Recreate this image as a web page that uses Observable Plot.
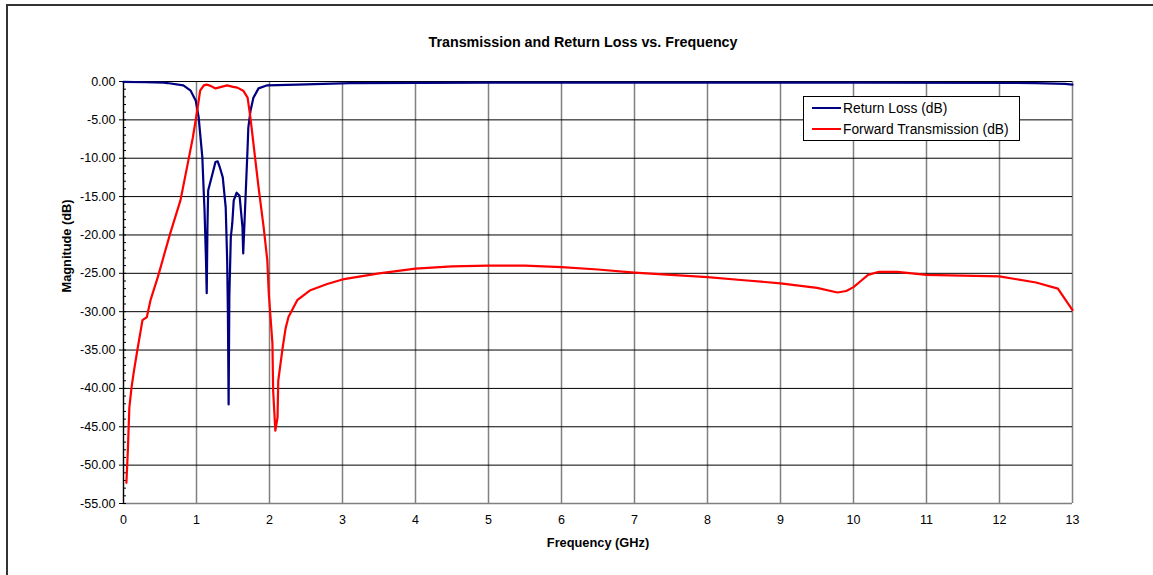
<!DOCTYPE html>
<html>
<head>
<meta charset="utf-8">
<script src="https://cdn.jsdelivr.net/npm/d3@7"></script>
<script src="https://cdn.jsdelivr.net/npm/@observablehq/plot@0.6"></script>
<style>
  body { margin: 0; background: #fff; font-family: "Liberation Sans", Arial, sans-serif; }
  #wrap { position: relative; width: 1153px; height: 575px; overflow: hidden; }
  #border { position: absolute; left: 6px; top: 4px; width: 1200px; height: 700px;
            border-left: 2px solid #333; border-top: 2px solid #333; pointer-events: none; }
  #legend { position: absolute; left: 803px; top: 96px; width: 215px; height: 43px;
            border: 1px solid #000; background: #fff; font-size: 13.8px; color: #000; }
  .row { position: absolute; left: 8px; height: 16px; display: flex; align-items: center; white-space: nowrap; }
  .sw { width: 29px; height: 0; border-top: 2px solid; margin-right: 2px; }
</style>
</head>
<body>
<div id="wrap">
  <div id="chart"></div>
  <div id="border"></div>
  <div id="legend">
    <div class="row" style="top:3px"><span class="sw" style="border-color:#000080"></span><span>Return Loss (dB)</span></div>
    <div class="row" style="top:24px"><span class="sw" style="border-color:#ff0000"></span><span>Forward Transmission (dB)</span></div>
  </div>
</div>
<script>
const title = "Transmission and Return Loss vs. Frequency";
const xLabel = "Frequency (GHz)";
const yLabel = "Magnitude (dB)";
const seriesNames = ["Return Loss (dB)", "Forward Transmission (dB)"];

const xTicks = [0,1,2,3,4,5,6,7,8,9,10,11,12,13];
const yTicks = [0,-5,-10,-15,-20,-25,-30,-35,-40,-45,-50,-55];
const yMinorTicks = d3.range(0, -56, -1);

// Forward transmission (red)
const fwdFreq = [0.04,0.06,0.08,0.11,0.14,0.19,0.26,0.32,0.37,0.47,0.55,0.64,0.78,0.88,0.95,1.01,1.05,1.10,1.14,1.20,1.26,1.34,1.42,1.50,1.56,1.64,1.70,1.74,1.78,1.85,1.92,1.97,1.99,2.04,2.05,2.08,2.11,2.12,2.18,2.22,2.26,2.38,2.56,2.79,3.0,3.5,4.0,4.5,5.0,5.5,6.0,6.5,7.0,7.5,8.0,8.5,9.0,9.5,9.78,9.9,10.0,10.1,10.2,10.35,10.6,11.0,11.5,12.0,12.5,12.8,13.0];
const fwdDb   = [-52.3,-48.0,-42.5,-39.9,-37.9,-35.0,-31.1,-30.7,-28.5,-25.5,-22.8,-19.8,-15.5,-10.7,-7.3,-3.8,-1.2,-0.5,-0.4,-0.6,-0.9,-0.7,-0.5,-0.7,-0.8,-1.2,-2.1,-4.8,-8.1,-13.8,-19.0,-23.3,-27.6,-34.1,-40.3,-45.5,-43.8,-39.0,-34.7,-32.2,-30.7,-28.5,-27.2,-26.4,-25.8,-25.0,-24.4,-24.1,-24.0,-24.0,-24.2,-24.5,-24.9,-25.2,-25.5,-25.9,-26.3,-26.9,-27.5,-27.3,-26.8,-26.0,-25.2,-24.8,-24.8,-25.2,-25.3,-25.4,-26.2,-27.0,-29.8];

// Return loss (blue)
const rlFreq = [0,0.3,0.55,0.6,0.82,0.92,0.99,1.03,1.05,1.08,1.10,1.11,1.13,1.14,1.15,1.16,1.22,1.26,1.29,1.32,1.36,1.40,1.42,1.43,1.44,1.45,1.47,1.49,1.51,1.55,1.59,1.63,1.64,1.67,1.70,1.71,1.74,1.78,1.85,1.97,2.38,3.1,5,8,10,12.5,12.9,13];
const rlDb   = [-0.05,-0.1,-0.15,-0.2,-0.5,-1.2,-2.5,-4.7,-6.8,-9.9,-14.6,-16.8,-23.3,-27.6,-19.0,-14.2,-12.0,-10.5,-10.4,-11.2,-12.5,-16.4,-23.3,-30.0,-42.1,-28.0,-20.3,-18.5,-15.5,-14.5,-14.9,-19.0,-22.4,-15.5,-8.6,-6.0,-3.8,-2.1,-0.9,-0.5,-0.4,-0.2,-0.15,-0.15,-0.15,-0.2,-0.3,-0.4];

const fwd = fwdFreq.map((f, i) => ({f, v: fwdDb[i], s: seriesNames[1]}));
const rl = rlFreq.map((f, i) => ({f, v: rlDb[i], s: seriesNames[0]}));

const chart = Plot.plot({
  width: 1153,
  height: 575,
  marginLeft: 123,
  marginRight: 81,
  marginTop: 81,
  marginBottom: 72,
  style: { fontFamily: "Liberation Sans, Arial, sans-serif", fontSize: "12.5px", color: "#000", background: "transparent" },
  x: { domain: [0, 13] },
  y: { domain: [-55, 0] },
  marks: [
    Plot.ruleX(xTicks, { stroke: "#808080", strokeWidth: 1.5 }),
    Plot.ruleY(yTicks.filter(d => d !== -55), { stroke: "#000", strokeWidth: 1 }),
    Plot.ruleY([-55], { stroke: "#808080", strokeWidth: 1.5 }),
    Plot.axisX({ ticks: xTicks, tickSize: 0, tickPadding: 12, tickFormat: d => d, label: null, fontSize: 12.5 }),
    Plot.axisY({ ticks: yTicks, tickSize: 4, tickPadding: 4, tickFormat: d => d.toFixed(2), label: null, fontSize: 12.5 }),
    Plot.axisY({ ticks: yMinorTicks, tickSize: -3, tickFormat: () => "", label: null }),
    Plot.ruleX([0], { stroke: "#000", strokeWidth: 1.2 }),
    Plot.line(rl, { x: "f", y: "v", stroke: "#000080", strokeWidth: 2.2 }),
    Plot.line(fwd, { x: "f", y: "v", stroke: "#ff0000", strokeWidth: 2.2 }),
    Plot.text([title], { frameAnchor: "top", dx: -15, dy: -45, fontWeight: "bold", fontSize: 14.3 }),
    Plot.text([xLabel], { frameAnchor: "bottom", dy: 43, fontWeight: "bold", fontSize: 12.8 }),
    Plot.text([yLabel], { frameAnchor: "left", dx: -57, rotate: -90, fontWeight: "bold", fontSize: 12.8 })
  ]
});
document.getElementById("chart").appendChild(chart);
</script>
</body>
</html>
